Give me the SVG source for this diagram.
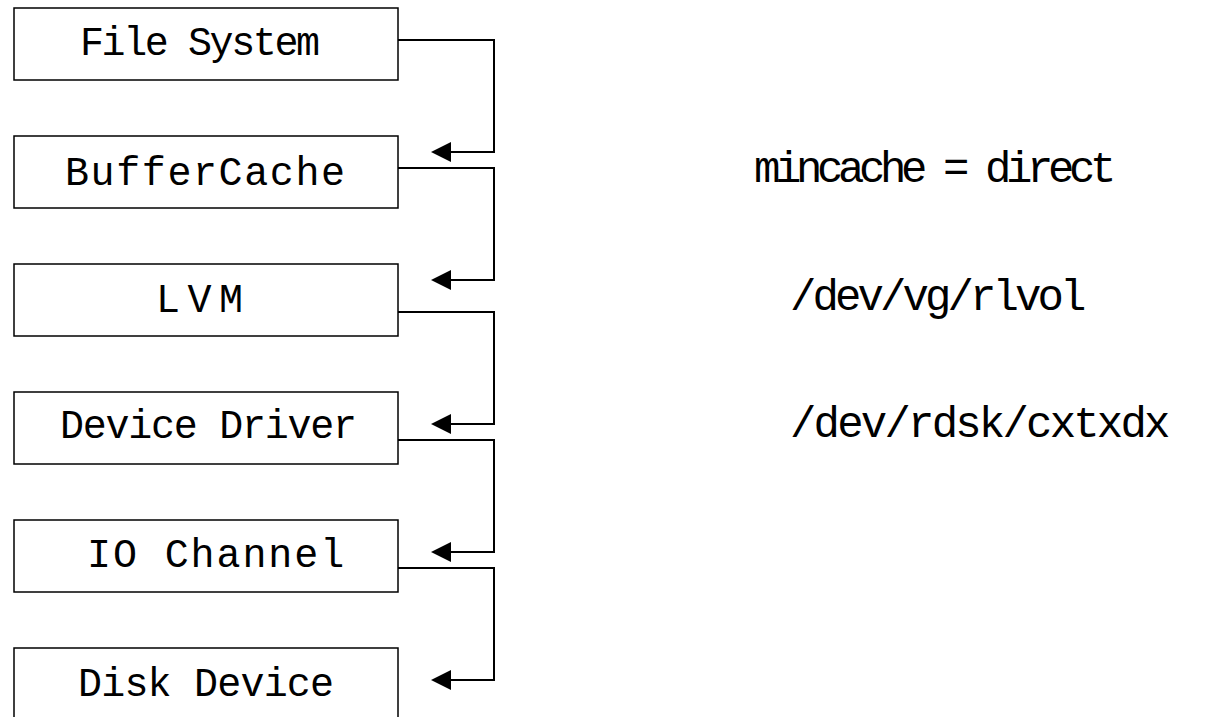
<svg xmlns="http://www.w3.org/2000/svg" width="1224" height="717" viewBox="0 0 1224 717">
  <style>
    .box { fill: #ffffff; stroke: #000000; stroke-width: 1.5; }
    .lbl { font-family: "Liberation Mono", "DejaVu Sans Mono", monospace; font-size: 40px; fill: #000000; }
    .note { font-family: "Liberation Mono", "DejaVu Sans Mono", monospace; font-size: 44px; fill: #000000; }
    .wire { fill: none; stroke: #000000; stroke-width: 2; }
    .head { fill: #000000; stroke: none; }
  </style>
  <defs>
    <!-- left-pointing arrowhead, tip at origin -->
    <polygon id="arrowL" class="head" points="0,0 20,-10 20,10"/>
  </defs>
  <rect width="1224" height="717" fill="#ffffff"/>

  <!-- stack of layers -->
  <g id="file-system">
    <rect class="box" x="14" y="8" width="384" height="72"/>
    <text class="lbl" x="80" y="55" letter-spacing="-2.4">File System</text>
  </g>
  <g id="buffer-cache">
    <rect class="box" x="14" y="136" width="384" height="72"/>
    <text class="lbl" x="65" y="185" letter-spacing="1.6">BufferCache</text>
  </g>
  <g id="lvm">
    <rect class="box" x="14" y="264" width="384" height="72"/>
    <text class="lbl" x="156" y="312" letter-spacing="7.5">LVM</text>
  </g>
  <g id="device-driver">
    <rect class="box" x="14" y="392" width="384" height="72"/>
    <text class="lbl" x="60" y="438" letter-spacing="-1.25">Device Driver</text>
  </g>
  <g id="io-channel">
    <rect class="box" x="14" y="520" width="384" height="72"/>
    <text class="lbl" x="87" y="567" letter-spacing="1.9">IO Channel</text>
  </g>
  <g id="disk-device">
    <rect class="box" x="14" y="648" width="384" height="72"/>
    <text class="lbl" x="78" y="696" letter-spacing="-0.8">Disk Device</text>
  </g>

  <!-- downward flow between layers -->
  <g id="connectors">
    <polyline class="wire" points="398,40 494,40 494,152 450,152"/>
    <use href="#arrowL" x="431" y="152"/>
    <polyline class="wire" points="398,168 494,168 494,280 450,280"/>
    <use href="#arrowL" x="431" y="280"/>
    <polyline class="wire" points="398,312 494,312 494,424 450,424"/>
    <use href="#arrowL" x="431" y="424"/>
    <polyline class="wire" points="398,440 494,440 494,552 450,552"/>
    <use href="#arrowL" x="431" y="552"/>
    <polyline class="wire" points="398,568 494,568 494,680 450,680"/>
    <use href="#arrowL" x="431" y="680"/>
  </g>

  <!-- side notes -->
  <g id="notes">
    <text class="note" x="754" y="182" letter-spacing="-5.4">mincache = direct</text>
    <text class="note" x="790" y="310" letter-spacing="-3.9">/dev/vg/rlvol</text>
    <text class="note" x="790" y="437" letter-spacing="-2.8">/dev/rdsk/cxtxdx</text>
  </g>
</svg>
